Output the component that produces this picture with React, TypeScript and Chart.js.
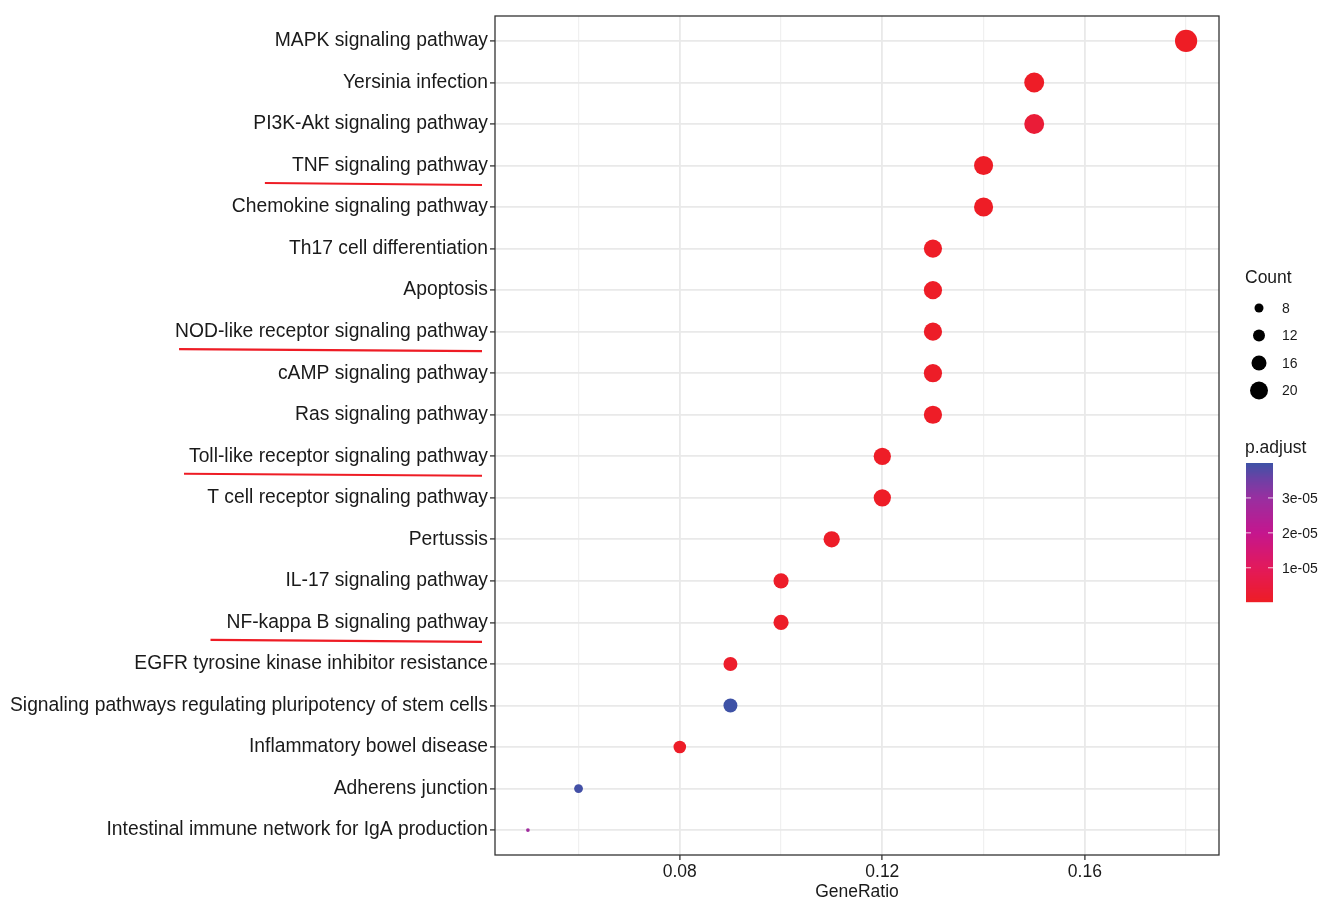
import React, { useEffect, useRef } from "react";
import { Chart, registerables } from "chart.js";

Chart.register(...registerables);

const categories = [
  "MAPK signaling pathway",
  "Yersinia infection",
  "PI3K-Akt signaling pathway",
  "TNF signaling pathway",
  "Chemokine signaling pathway",
  "Th17 cell differentiation",
  "Apoptosis",
  "NOD-like receptor signaling pathway",
  "cAMP signaling pathway",
  "Ras signaling pathway",
  "Toll-like receptor signaling pathway",
  "T cell receptor signaling pathway",
  "Pertussis",
  "IL-17 signaling pathway",
  "NF-kappa B signaling pathway",
  "EGFR tyrosine kinase inhibitor resistance",
  "Signaling pathways regulating pluripotency of stem cells",
  "Inflammatory bowel disease",
  "Adherens junction",
  "Intestinal immune network for IgA production",
];

const geneRatio = [0.18, 0.15, 0.15, 0.14, 0.14, 0.13, 0.13, 0.13, 0.13, 0.13, 0.12, 0.12, 0.11, 0.1, 0.1, 0.09, 0.09, 0.08, 0.06, 0.05];
const counts = [18, 15, 15, 14, 14, 13, 13, 13, 13, 13, 12, 12, 11, 10, 10, 9, 9, 8, 6, 5];
const pAdjust = [
  2e-7, 5e-7, 3.5e-6, 3e-7, 4e-7, 6e-7, 5e-7, 7e-7, 8e-7, 6e-7,
  5e-7, 6e-7, 8e-7, 9e-7, 7e-7, 1.2e-6, 4.0e-5, 8e-7, 3.95e-5, 2.85e-5,
];

const xMajorTicks = [0.08, 0.12, 0.16];
const xAllGrid = [0.06, 0.08, 0.1, 0.12, 0.14, 0.16, 0.18];
const countLegendBreaks = [8, 12, 16, 20];
const pLegendBreaks = [1e-5, 2e-5, 3e-5];
const pLegendLabels = ["1e-05", "2e-05", "3e-05"];
const underlined = ["TNF signaling pathway", "NOD-like receptor signaling pathway", "Toll-like receptor signaling pathway", "NF-kappa B signaling pathway"];

// style constants
const FONT = "'Liberation Sans', Arial, sans-serif";
const Y_FONT_SIZE = 19.3;
const underlineExtend = [27, -4, 5, 16];
const legendRadii = [4.5, 6, 7.5, 9];
const colorStops: [number, number[]][] = [
  [0, [238, 29, 37]],
  [0.25, [226, 25, 92]],
  [0.5, [196, 22, 142]],
  [0.75, [152, 47, 160]],
  [0.88, [110, 64, 165]],
  [1, [62, 82, 166]],
];

const pMin = Math.min(...pAdjust);
const pMax = Math.max(...pAdjust);
const cMin = Math.min(...counts);
const cMax = Math.max(...counts);

function colorAt(t: number): string {
  t = Math.max(0, Math.min(1, t));
  for (let i = 1; i < colorStops.length; i++) {
    const [t1, c1] = colorStops[i];
    const [t0, c0] = colorStops[i - 1];
    if (t <= t1) {
      const f = (t - t0) / (t1 - t0);
      const c = c0.map((v, k) => Math.round(v + (c1[k] - v) * f));
      return `rgb(${c[0]},${c[1]},${c[2]})`;
    }
  }
  const c = colorStops[colorStops.length - 1][1];
  return `rgb(${c[0]},${c[1]},${c[2]})`;
}

function pColor(p: number) {
  return colorAt((p - pMin) / (pMax - pMin));
}

function sizeRadius(c: number) {
  const s = 1 + 5 * Math.sqrt((c - cMin) / (cMax - cMin));
  return 1.85 * s;
}

const decor = {
  id: "decor",
  beforeDraw(chart: any) {
    const ctx = chart.ctx;
    ctx.save();
    ctx.fillStyle = "#ffffff";
    ctx.fillRect(0, 0, chart.width, chart.height);
    ctx.restore();
  },
  afterDraw(chart: any) {
    const ctx = chart.ctx;
    const a = chart.chartArea;
    const ys = chart.scales.y;
    ctx.save();
    // panel border
    ctx.strokeStyle = "#333333";
    ctx.lineWidth = 1.3;
    ctx.strokeRect(a.left, a.top, a.right - a.left, a.bottom - a.top);

    // underlines
    ctx.font = `${Y_FONT_SIZE}px ${FONT}`;
    ctx.strokeStyle = "#ee1c25";
    ctx.lineWidth = 2.2;
    underlined.forEach((lab, i) => {
      const idx = categories.indexOf(lab);
      const y = ys.getPixelForValue(idx);
      const w = ctx.measureText(lab).width;
      const right = 482;
      const left = 488 - w - underlineExtend[i];
      ctx.beginPath();
      ctx.moveTo(left, y + 17.5);
      ctx.quadraticCurveTo((left + right) / 2, y + 18.5, right, y + 19.5);
      ctx.stroke();
    });

    // x title
    ctx.fillStyle = "#1a1a1a";
    ctx.font = `17.5px ${FONT}`;
    ctx.textAlign = "center";
    ctx.textBaseline = "middle";
    ctx.fillText("GeneRatio", (a.left + a.right) / 2, 892);

    // Count legend
    ctx.textAlign = "left";
    ctx.font = `17.5px ${FONT}`;
    ctx.fillText("Count", 1245, 278);
    ctx.font = `14px ${FONT}`;
    countLegendBreaks.forEach((b, i) => {
      const y = 308 + i * 27.5;
      ctx.fillStyle = "#000000";
      ctx.beginPath();
      ctx.arc(1259, y, legendRadii[i], 0, Math.PI * 2);
      ctx.fill();
      ctx.fillStyle = "#1a1a1a";
      ctx.fillText(String(b), 1282, y + 1);
    });

    // p.adjust colorbar
    ctx.font = `17.5px ${FONT}`;
    ctx.fillText("p.adjust", 1245, 448);
    const bx = 1246, bw = 27, bt = 463, bb = 602;
    for (let y = bt; y < bb; y++) {
      const t = (bb - (y + 0.5)) / (bb - bt);
      ctx.fillStyle = colorAt(t);
      ctx.fillRect(bx, y, bw, 1.2);
    }
    ctx.font = `14px ${FONT}`;
    pLegendBreaks.forEach((b, i) => {
      const t = (b - pMin) / (pMax - pMin);
      const y = bb - t * (bb - bt);
      ctx.strokeStyle = "rgba(255,255,255,0.8)";
      ctx.lineWidth = 1;
      ctx.beginPath();
      ctx.moveTo(bx, y);
      ctx.lineTo(bx + 5, y);
      ctx.moveTo(bx + bw - 5, y);
      ctx.lineTo(bx + bw, y);
      ctx.stroke();
      ctx.fillStyle = "#1a1a1a";
      ctx.fillText(pLegendLabels[i], 1282, y + 1);
    });
    ctx.restore();
  },
};

export default function App() {
  const ref = useRef<HTMLCanvasElement>(null);
  useEffect(() => {
    if (!ref.current) return;
    const data = categories.map((_, i) => ({ x: geneRatio[i], y: i, r: sizeRadius(counts[i]) }));
    const chart = new Chart(ref.current, {
      type: "bubble",
      data: {
        datasets: [
          {
            data,
            backgroundColor: pAdjust.map((p) => pColor(p)),
            borderWidth: 0,
            hoverBorderWidth: 0,
            clip: false as any,
          },
        ],
      },
      options: {
        animation: false,
        responsive: false,
        events: [],
        layout: { padding: { left: 0, right: 100, top: 16, bottom: 0 } },
        plugins: { legend: { display: false }, tooltip: { enabled: false } },
        scales: {
          x: {
            type: "linear",
            min: 0.0435,
            max: 0.1865,
            afterBuildTicks: (s: any) => {
              s.ticks = xAllGrid.map((v) => ({ value: v }));
            },
            afterFit: (s: any) => {
              s.height = 44;
            },
            grid: {
              color: (c: any) => (xMajorTicks.some((m) => Math.abs(m - c.tick?.value) < 1e-9) ? "#e9e9e9" : "#f0f0f0"),
              lineWidth: (c: any) => (xMajorTicks.some((m) => Math.abs(m - c.tick?.value) < 1e-9) ? 1.8 : 1.2),
              tickColor: (c: any) => (xMajorTicks.some((m) => Math.abs(m - c.tick?.value) < 1e-9) ? "#333333" : "rgba(0,0,0,0)"),
              tickLength: 5,
              tickWidth: 1.3,
            },
            border: { display: false },
            ticks: {
              autoSkip: false,
              maxRotation: 0,
              padding: 2,
              color: "#1a1a1a",
              font: { family: FONT, size: 17.5 },
              callback: (v: any) => (xMajorTicks.some((m) => Math.abs(m - v) < 1e-9) ? Number(v).toFixed(2) : ""),
            },
          },
          y: {
            type: "linear",
            reverse: true,
            min: -0.6,
            max: 19.6,
            afterBuildTicks: (s: any) => {
              s.ticks = categories.map((_, i) => ({ value: i }));
            },
            afterFit: (s: any) => {
              s.width = 495;
            },
            grid: {
              color: "#e9e9e9",
              lineWidth: 1.8,
              tickColor: "#333333",
              tickLength: 5,
              tickWidth: 1.3,
            },
            border: { display: false },
            ticks: {
              autoSkip: false,
              padding: 2,
              color: "#1a1a1a",
              font: { family: FONT, size: Y_FONT_SIZE },
              callback: (v: any) => categories[v] ?? "",
            },
          },
        },
      },
      plugins: [decor],
    });
    return () => chart.destroy();
  }, []);
  return (
    <div style={{ position: "fixed", left: 0, top: 0, width: 1319, height: 899, background: "#fff" }}>
      <canvas ref={ref} width={1319} height={899} style={{ width: 1319, height: 899, display: "block" }} />
    </div>
  );
}
